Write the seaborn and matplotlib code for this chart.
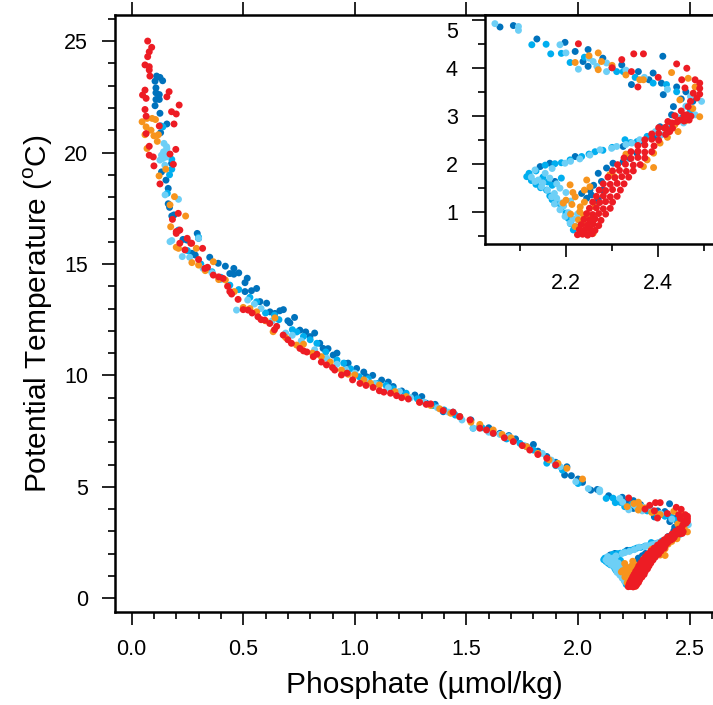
import matplotlib
matplotlib.use("Agg")
import matplotlib.pyplot as plt
from matplotlib.ticker import MultipleLocator
from matplotlib.transforms import ScaledTranslation
import pandas as pd
import seaborn as sns

# series colours
colors = {
    "dark": "#0072BC",
    "cyan": "#00AEEF",
    "light": "#6DCFF6",
    "orange": "#F7941D",
    "red": "#ED1C24",
}

# (phosphate, potential temperature)
dark_pts = [
    (0.112, 23.43), (0.127, 23.37), (0.139, 23.22), (0.105, 23.20), (0.109, 22.90),
    (0.109, 22.68), (0.124, 22.60), (0.109, 22.38), (0.124, 22.38), (0.105, 22.10),
    (0.127, 21.76), (0.158, 21.28), (0.130, 20.89), (0.179, 19.51), (0.134, 19.13),
    (0.154, 18.76), (0.164, 18.39), (0.164, 17.70), (0.170, 17.54), (0.180, 17.15),
    (0.190, 17.20), (0.210, 16.50), (0.230, 16.10), (0.294, 16.37), (0.248, 16.07),
    (0.300, 16.15), (0.270, 15.48), (0.285, 15.40), (0.388, 15.03), (0.458, 14.80),
    (0.440, 14.57), (0.458, 14.54), (0.518, 14.36), (0.508, 14.16), (0.508, 13.76),
    (0.537, 13.80), (0.575, 13.31), (0.605, 13.24), (0.664, 12.90), (0.642, 12.78),
    (0.709, 12.36), (0.754, 12.03), (0.799, 11.74), (0.843, 11.44), (0.858, 11.21),
    (0.903, 10.91), (0.955, 10.54), (1.008, 10.31), (1.052, 9.94), (1.120, 9.79),
    (1.172, 9.50), (1.269, 9.12), (1.320, 8.75), (1.396, 8.37), (1.470, 8.15),
    (1.560, 7.70), (1.650, 7.40), (1.770, 6.80), (1.860, 6.36), (1.940, 5.53),
    (0.620, 12.85), (0.700, 12.45), (0.780, 11.95), (0.880, 11.20), (0.970, 10.55),
    (1.040, 10.15), (1.210, 9.30), (1.440, 8.35), (1.600, 7.65), (1.720, 7.15),
    (1.820, 6.60), (1.900, 6.10), (2.000, 5.35), (1.970, 5.50), (2.020, 5.20),
    (0.350, 15.30), (0.420, 14.90), (0.480, 14.60), (0.560, 13.90), (0.680, 12.95),
    (0.730, 12.60), (0.820, 11.90), (0.920, 11.00), (1.080, 10.00), (1.150, 9.70),
    (1.300, 9.05), (1.360, 8.70), (1.520, 8.00), (1.690, 7.30), (1.800, 6.90),
    (1.950, 5.90),
    (2.057, 4.85), (2.086, 4.88), (2.137, 4.60), (2.198, 4.53), (2.220, 4.34),
    (2.248, 4.38), (2.237, 4.13), (2.248, 4.03), (2.321, 4.06), (2.357, 3.92),
    (2.342, 3.65), (2.389, 3.89), (2.407, 3.68), (2.410, 4.24), (2.411, 3.44),
    (2.433, 3.19), (2.429, 3.02), (2.404, 2.77), (2.390, 2.55), (2.368, 2.46),
    (2.324, 2.36), (2.220, 2.15), (2.165, 2.01), (2.144, 1.94), (2.176, 1.63),
    (2.234, 1.38), (2.245, 1.28), (2.263, 1.18), (2.252, 1.45), (2.270, 1.80),
    (2.277, 1.63), (2.288, 1.91), (2.302, 2.01), (2.324, 2.04), (2.339, 2.11),
    (2.354, 2.22), (2.260, 1.55), (2.255, 1.35), (2.270, 1.25), (2.280, 1.45),
    (2.475, 3.30), (2.460, 3.50), (2.440, 3.60), (2.300, 4.00), (2.280, 4.20),
    (2.380, 3.75), (2.450, 3.35),
]

cyan_pts = [
    (0.140, 21.15), (0.130, 21.20), (0.180, 19.69), (0.180, 19.25), (0.170, 19.00),
    (0.160, 18.17), (0.210, 16.52), (0.300, 16.20), (0.360, 14.65), (0.440, 14.05),
    (0.530, 13.50), (0.600, 12.80), (0.660, 12.50), (0.720, 12.05), (0.830, 11.44),
    (0.920, 10.69), (1.020, 9.94), (1.100, 9.64), (1.230, 9.20), (1.350, 8.65),
    (1.450, 8.22), (1.530, 7.63), (1.620, 7.40), (1.740, 6.95), (1.860, 6.06),
    (0.250, 15.60), (0.310, 15.00), (0.480, 13.85), (0.770, 11.75), (0.870, 11.05),
    (0.980, 10.30), (1.170, 9.40), (1.280, 8.95), (1.680, 7.15), (1.800, 6.65),
    (1.930, 5.75), (2.000, 5.15),
    (0.400, 14.40), (0.560, 13.30), (0.640, 12.70), (0.740, 11.95), (0.800, 11.60),
    (0.950, 10.55), (1.060, 9.85), (1.140, 9.55), (1.400, 8.45), (1.570, 7.65),
    (1.710, 7.05), (1.900, 5.95),
    (2.126, 4.48), (2.157, 4.49), (2.167, 4.29), (2.209, 4.11), (2.310, 3.92),
    (2.324, 3.92), (2.389, 3.68), (2.418, 3.65), (2.376, 2.57), (2.354, 2.46),
    (2.328, 2.50), (2.263, 2.25), (2.234, 2.15), (2.209, 2.08), (2.176, 2.00),
    (2.155, 1.97), (2.115, 1.73), (2.158, 1.45), (2.180, 1.18), (2.216, 0.62),
    (2.240, 4.22), (2.190, 4.30), (2.350, 3.80), (2.440, 3.50), (2.470, 3.10),
    (2.450, 2.95), (2.430, 2.80),
    (2.120, 1.80), (2.135, 1.85), (2.190, 2.02), (2.250, 2.20), (2.280, 2.28),
    (2.300, 2.34), (2.340, 2.44), (2.400, 2.62), (2.420, 2.70), (2.125, 1.65),
    (2.135, 1.57), (2.145, 1.50), (2.165, 1.33), (2.170, 1.25), (2.190, 1.08),
    (2.200, 0.97), (2.205, 0.86), (2.210, 0.75), (2.150, 1.72), (2.160, 1.62),
    (2.170, 1.55), (2.190, 1.70),
]

light_pts = [
    (0.145, 20.41), (0.158, 20.18), (0.143, 20.03), (0.134, 19.88), (0.127, 19.66),
    (0.149, 19.43), (0.140, 19.73), (0.157, 20.26), (0.150, 20.00), (0.155, 19.80),
    (0.210, 17.90), (0.150, 18.10), (0.180, 16.05), (0.300, 16.15), (0.172, 16.00),
    (0.227, 15.33), (0.320, 14.80), (0.470, 12.93), (0.520, 13.38), (0.580, 13.00),
    (0.690, 11.90), (0.760, 11.55), (0.874, 10.77), (0.960, 10.25), (1.090, 9.64),
    (1.200, 9.28), (1.310, 8.80), (1.420, 8.35), (1.530, 7.63), (1.690, 7.25),
    (1.840, 6.50), (1.990, 5.23), (0.400, 14.30), (0.630, 12.45), (1.000, 10.10),
    (1.600, 7.45), (1.920, 5.90),
    (0.260, 15.30), (0.360, 14.60), (0.450, 13.70), (0.550, 13.20), (0.720, 11.80),
    (0.820, 11.15), (0.920, 10.50), (1.050, 9.75), (1.150, 9.45), (1.250, 9.00),
    (1.370, 8.55), (1.480, 8.00), (1.650, 7.35), (1.760, 6.85), (1.880, 6.20),
    (2.046, 4.92), (2.097, 4.86), (2.097, 4.78), (2.187, 4.48), (2.200, 4.31),
    (2.227, 3.97), (2.259, 4.13), (2.267, 4.03), (2.288, 4.10), (2.288, 3.92),
    (2.494, 3.30), (2.480, 3.02), (2.440, 2.98), (2.455, 2.85), (2.407, 2.60),
    (2.394, 2.67), (2.343, 2.43), (2.310, 2.36), (2.299, 2.32), (2.274, 2.29),
    (2.252, 2.18), (2.198, 2.01), (2.133, 1.87), (2.133, 1.63), (2.147, 1.52),
    (2.169, 1.31), (2.187, 1.04), (2.198, 0.90), (2.209, 0.76), (2.155, 1.80),
    (2.187, 1.49), (2.420, 3.55), (2.470, 3.40), (2.460, 3.20), (2.370, 3.80),
    (2.330, 3.95), (2.250, 4.20),
    (2.125, 1.72), (2.140, 1.66), (2.150, 1.60), (2.160, 1.45), (2.175, 1.38),
    (2.180, 1.28), (2.190, 1.18), (2.195, 1.12), (2.205, 0.98), (2.215, 0.85),
    (2.220, 0.70), (2.170, 1.90), (2.210, 2.05), (2.230, 2.10), (2.330, 2.40),
    (2.360, 2.50), (2.200, 1.40), (2.165, 1.70), (2.180, 1.58), (2.210, 1.22),
    (2.225, 0.95), (2.175, 1.16),
]

orange_pts = [
    (0.047, 21.38), (0.069, 21.53), (0.092, 21.53), (0.107, 21.48), (0.065, 21.15),
    (0.087, 21.00), (0.060, 20.80), (0.100, 20.75), (0.120, 20.80), (0.115, 20.50),
    (0.069, 20.18), (0.153, 19.25), (0.123, 18.95), (0.192, 18.02), (0.172, 17.65),
    (0.242, 17.15), (0.175, 16.67), (0.210, 15.70), (0.290, 15.70), (0.200, 15.75),
    (0.270, 15.06), (0.300, 14.95), (0.366, 15.10), (0.420, 14.28), (0.460, 13.76),
    (0.500, 13.05), (0.560, 12.85), (0.634, 11.96), (0.642, 12.58), (0.739, 11.36),
    (0.770, 11.40), (0.850, 10.84), (0.940, 10.24), (1.000, 10.02), (1.040, 9.80),
    (1.110, 9.57), (1.180, 9.27), (1.290, 8.80), (1.380, 8.50), (1.470, 8.15),
    (1.560, 7.80), (1.620, 7.55), (1.700, 7.20), (1.770, 6.80), (1.870, 6.21),
    (1.950, 5.83), (2.020, 5.35),
    (0.330, 14.70), (0.390, 14.30), (0.530, 13.00), (0.600, 12.45), (0.690, 11.70),
    (0.810, 11.00), (0.890, 10.60), (0.970, 10.05), (1.070, 9.65), (1.230, 9.05),
    (1.340, 8.65), (1.430, 8.30), (1.520, 7.90), (1.660, 7.35), (1.820, 6.50),
    (1.910, 6.05),
    (2.220, 4.11), (2.270, 3.96), (2.270, 4.31), (2.277, 4.13), (2.360, 3.75),
    (2.368, 3.75), (2.429, 3.90), (2.465, 3.78), (2.490, 2.98), (2.447, 3.33),
    (2.436, 2.81), (2.443, 2.67), (2.404, 2.43), (2.390, 2.22), (2.376, 2.08),
    (2.368, 1.94), (2.390, 1.92), (2.295, 1.77), (2.305, 1.73), (2.245, 1.66),
    (2.252, 1.52), (2.209, 1.56), (2.200, 1.24), (2.220, 1.31), (2.231, 1.10),
    (2.238, 0.93), (2.227, 0.83), (2.220, 0.69), (2.263, 1.10), (2.259, 0.55),
    (2.213, 1.15), (2.194, 1.18), (2.245, 0.60), (2.235, 0.75), (2.250, 0.85),
    (2.230, 1.00), (2.215, 1.40), (2.240, 1.45), (2.300, 4.05), (2.330, 3.85),
    (2.480, 3.60), (2.475, 3.15), (2.460, 2.90), (2.420, 2.55), (2.330, 2.20),
    (2.250, 4.25), (2.240, 1.20), (2.210, 0.95),
]

red_pts = [
    (0.072, 25.00), (0.090, 24.72), (0.079, 24.52), (0.072, 24.30), (0.079, 23.85),
    (0.060, 23.93), (0.079, 23.70), (0.082, 23.43), (0.060, 22.80), (0.049, 22.58),
    (0.065, 22.43), (0.168, 22.73), (0.158, 22.50), (0.213, 22.13), (0.060, 21.93),
    (0.179, 21.83), (0.200, 21.73), (0.065, 21.63), (0.124, 21.19), (0.190, 21.28),
    (0.065, 20.85), (0.079, 20.28), (0.198, 20.14), (0.172, 19.93), (0.079, 19.88),
    (0.097, 19.80), (0.187, 19.47), (0.100, 19.40), (0.127, 18.59), (0.209, 17.27),
    (0.183, 17.00), (0.200, 16.37), (0.249, 16.15), (0.216, 15.93), (0.265, 15.93),
    (0.318, 15.70),
    (0.200, 16.45), (0.216, 16.52), (0.269, 15.93), (0.239, 15.63), (0.328, 14.80),
    (0.366, 14.50), (0.390, 14.42), (0.410, 14.35), (0.440, 13.76), (0.448, 13.65),
    (0.477, 13.41), (0.522, 12.93), (0.540, 12.80), (0.566, 12.63), (0.596, 12.48),
    (0.619, 12.33), (0.650, 12.20), (0.679, 11.81), (0.716, 11.44), (0.754, 11.21),
    (0.785, 11.05), (0.814, 10.84), (0.830, 10.95), (0.873, 10.47), (0.910, 10.24),
    (0.940, 10.02), (0.965, 10.10), (1.023, 9.64), (1.050, 9.55), (1.082, 9.46),
    (1.110, 9.31), (1.160, 9.20), (1.187, 9.09), (1.240, 8.94), (1.290, 8.79),
    (1.340, 8.72), (1.396, 8.42), (1.440, 8.35), (1.516, 8.00), (1.560, 7.63),
    (1.620, 7.40), (1.710, 7.03), (1.784, 6.65), (1.860, 6.28), (1.900, 5.98),
    (0.300, 15.20), (0.340, 14.85), (0.430, 14.00), (0.500, 12.95), (0.580, 12.50),
    (0.640, 12.05), (0.700, 11.60), (0.770, 11.10), (0.850, 10.60), (0.900, 10.35),
    (0.990, 9.80), (1.130, 9.25), (1.210, 9.00), (1.320, 8.70), (1.470, 8.15),
    (1.590, 7.55), (1.670, 7.20), (1.750, 6.85), (1.820, 6.45),
    (2.227, 4.50), (2.321, 4.17), (2.342, 3.92), (2.347, 4.29), (2.368, 4.29),
    (2.356, 3.60), (2.440, 4.08), (2.462, 3.99), (2.451, 3.75), (2.480, 3.75),
    (2.490, 3.68), (2.490, 3.57), (2.458, 3.58), (2.476, 3.47), (2.484, 3.37),
    (2.465, 3.19), (2.447, 2.91), (2.462, 3.02), (2.467, 2.91), (2.425, 2.67),
    (2.414, 2.74), (2.470, 3.30), (2.490, 3.45), (2.450, 3.10), (2.430, 2.85),
    (2.300, 4.00), (2.400, 3.80),
    (2.225, 0.52), (2.236, 0.53), (2.247, 0.51), (2.257, 0.54),
    (2.229, 0.63), (2.241, 0.62), (2.252, 0.64), (2.263, 0.61),
    (2.233, 0.73), (2.246, 0.72), (2.259, 0.74), (2.271, 0.71),
    (2.239, 0.84), (2.251, 0.83), (2.263, 0.85), (2.276, 0.82),
    (2.245, 0.96), (2.258, 0.94), (2.271, 0.96), (2.286, 0.95),
    (2.251, 1.07), (2.266, 1.08), (2.281, 1.06), (2.296, 1.07),
    (2.258, 1.20), (2.273, 1.19), (2.286, 1.21), (2.301, 1.20),
    (2.266, 1.32), (2.281, 1.33), (2.296, 1.31), (2.311, 1.32),
    (2.272, 1.45), (2.286, 1.44), (2.301, 1.46), (2.318, 1.45),
    (2.281, 1.58), (2.296, 1.57), (2.311, 1.59), (2.326, 1.58),
    (2.291, 1.72), (2.306, 1.71), (2.321, 1.73), (2.336, 1.72),
    (2.301, 1.85), (2.316, 1.86), (2.331, 1.84), (2.346, 1.85),
    (2.312, 1.98), (2.329, 1.99), (2.346, 1.97), (2.361, 1.98),
    (2.326, 2.12), (2.341, 2.11), (2.356, 2.13), (2.371, 2.12),
    (2.341, 2.25), (2.356, 2.26), (2.371, 2.24), (2.386, 2.25),
    (2.356, 2.38), (2.371, 2.39), (2.391, 2.37),
    (2.371, 2.50), (2.386, 2.51), (2.401, 2.49),
    (2.386, 2.62), (2.401, 2.63), (2.416, 2.61),
    (2.401, 2.75), (2.416, 2.76), (2.431, 2.74),
    (2.421, 2.88), (2.441, 2.87), (2.456, 2.89),
    (2.436, 3.00), (2.456, 3.01), (2.471, 2.99),
]

series_order = ["dark", "cyan", "light", "orange", "red"]
all_pts = {"dark": dark_pts, "cyan": cyan_pts, "light": light_pts,
           "orange": orange_pts, "red": red_pts}

rows = []
for name in series_order:
    for po4, theta in all_pts[name]:
        rows.append({"po4": po4, "theta": theta, "series": name})
df = pd.DataFrame(rows)

sns.set_style("ticks")
plt.rcParams["font.family"] = ["Liberation Sans", "DejaVu Sans"]
plt.rcParams["mathtext.fontset"] = "custom"
plt.rcParams["mathtext.rm"] = "Liberation Sans"
plt.rcParams["text.color"] = "black"
plt.rcParams["axes.labelcolor"] = "black"

W, H = 713, 705
fig = plt.figure(figsize=(W / 100, H / 100), dpi=100)


def style_axes(a, xpad, ypad):
    a.tick_params(which="both", direction="out", right=False,
                  width=1.2, colors="black", labelsize=15.5)
    a.tick_params(which="major", length=9.5)
    a.tick_params(which="minor", length=5)
    a.tick_params(axis="x", which="major", pad=xpad)
    a.tick_params(axis="y", which="major", pad=ypad)
    for side in ["top", "bottom", "left", "right"]:
        a.spines[side].set_linewidth(1.8)
        a.spines[side].set_color("black")


# main axes (right edge runs off the figure like the original)
ax = fig.add_axes([115 / W, 1 - 612.3 / H, (734.3 - 115) / W, (612.3 - 15) / H])
sns.scatterplot(data=df, x="po4", y="theta", hue="series", palette=colors,
                hue_order=series_order, s=25, linewidth=0, legend=False, ax=ax)
ax.set_xlim(-0.0744, 2.70)
ax.set_ylim(-0.63, 26.17)
ax.xaxis.set_major_locator(MultipleLocator(0.5))
ax.xaxis.set_minor_locator(MultipleLocator(0.1))
ax.yaxis.set_major_locator(MultipleLocator(5))
ax.yaxis.set_minor_locator(MultipleLocator(1))
ax.xaxis.set_major_formatter(lambda v, p: f"{v:.1f}")
style_axes(ax, xpad=10, ypad=10)
ax.tick_params(top=True)
ax.set_xlabel("Phosphate (\u00b5mol/kg)", fontsize=21.5, labelpad=8)
ax.set_ylabel("Potential Temperature ($^{\\rm o}$C)", fontsize=21.5, labelpad=6)

# inset zoom on the deep water
axi = fig.add_axes([485 / W, 1 - 244.3 / H, (732 - 485) / W, (244.3 - 15) / H])
sns.scatterplot(data=df, x="po4", y="theta", hue="series", palette=colors,
                hue_order=series_order, s=25, linewidth=0, legend=False, ax=axi)
axi.set_xlim(2.0245, 2.56)
axi.set_ylim(0.32, 5.10)
axi.xaxis.set_major_locator(MultipleLocator(0.2))
axi.xaxis.set_minor_locator(MultipleLocator(0.1))
axi.yaxis.set_major_locator(MultipleLocator(1))
axi.yaxis.set_minor_locator(MultipleLocator(0.5))
axi.xaxis.set_major_formatter(lambda v, p: f"{v:.1f}")
axi.yaxis.set_major_formatter(lambda v, p: f"{v:.0f}")
style_axes(axi, xpad=11, ypad=10)
axi.tick_params(top=False)
axi.set_xlabel("")
axi.set_ylabel("")
axi.set_facecolor("white")

# the top inset label sits a little below its tick, as in the original
fig.canvas.draw()
for lab in axi.get_yticklabels():
    if lab.get_text() == "5":
        lab.set_transform(lab.get_transform()
                          + ScaledTranslation(0, -7 / 72, fig.dpi_scale_trans))

fig.savefig("out.png", dpi=100)
